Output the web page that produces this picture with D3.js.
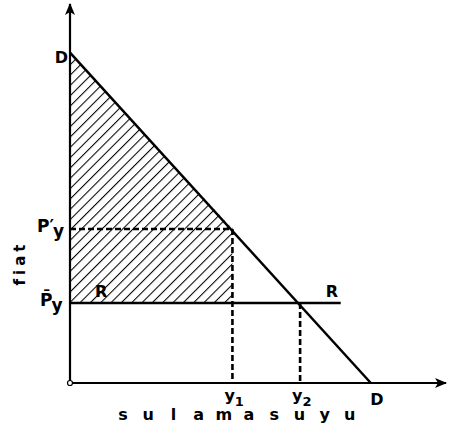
<!DOCTYPE html>
<html>
<head>
<meta charset="utf-8">
<script src="https://cdn.jsdelivr.net/npm/d3@7"></script>
<style>
  body { margin: 0; background: #fff; }
  text { font-family: "DejaVu Sans", "Liberation Sans", sans-serif; font-weight: bold; fill: #000; }
</style>
</head>
<body>
<svg width="453" height="442"></svg>
<script>
// Diagram values (data units)
const demandPoints = [{q: 0, p: 10}, {q: 10, p: 0}];   // D ... D
const priceLevels = {low: 2.42, high: 4.66};           // P̄y (R line), P'y
const quantities = [5.4, 7.65];                        // y1, y2
const quantityLabels = ['1', '2'];
const rLineEnd = 9.0;
const xLabelLetters = ['s', 'u', 'l', 'a', 'm', 'a', 's', 'u', 'y', 'u'];

// Scales
const x = d3.scaleLinear().domain([0, 12.5]).range([70, 446]);
const y = d3.scaleLinear().domain([0, 11.5]).range([383, 3]);
const line = d3.line().x(d => x(d.q)).y(d => y(d.p));

const svg = d3.select('svg');
const defs = svg.append('defs');

// hatching for the shaded area
defs.append('pattern')
  .attr('id', 'hatch')
  .attr('patternUnits', 'userSpaceOnUse')
  .attr('width', 7.3).attr('height', 7.3)
  .attr('patternTransform', 'rotate(45)')
  .append('line')
  .attr('x1', 0).attr('y1', 0).attr('x2', 0).attr('y2', 7.3)
  .attr('stroke', '#000').attr('stroke-width', 2.1);

defs.append('marker')
  .attr('id', 'arrow')
  .attr('viewBox', '0 0 12 10')
  .attr('refX', 11).attr('refY', 5)
  .attr('markerWidth', 12).attr('markerHeight', 10)
  .attr('markerUnits', 'userSpaceOnUse')
  .attr('orient', 'auto')
  .append('path')
  .attr('d', 'M0,0 L12,5 L0,10 L3,5 Z')
  .attr('fill', '#000');

const q1 = quantities[0], q2 = quantities[1];

// shaded area: under demand, above P̄y, left of y1
svg.append('path')
  .datum([{q: 0, p: 10}, {q: q1, p: priceLevels.high}, {q: q1, p: priceLevels.low}, {q: 0, p: priceLevels.low}])
  .attr('d', d => line(d) + 'Z')
  .attr('fill', 'url(#hatch)');

// axes
svg.append('line')
  .attr('x1', x(0)).attr('y1', y(0)).attr('x2', x(0)).attr('y2', y(11.5) + 1)
  .attr('stroke', '#000').attr('stroke-width', 2.2)
  .attr('marker-end', 'url(#arrow)');
svg.append('line')
  .attr('x1', x(0)).attr('y1', y(0)).attr('x2', x(12.5)).attr('y2', y(0))
  .attr('stroke', '#000').attr('stroke-width', 2.2)
  .attr('marker-end', 'url(#arrow)');
svg.append('circle')
  .attr('cx', x(0)).attr('cy', y(0)).attr('r', 2.5)
  .attr('fill', '#fff').attr('stroke', '#000').attr('stroke-width', 1.2);

// demand line
svg.append('path')
  .datum(demandPoints)
  .attr('d', line)
  .attr('fill', 'none').attr('stroke', '#000').attr('stroke-width', 2.5);

// R line
svg.append('line')
  .attr('x1', x(0)).attr('x2', x(rLineEnd))
  .attr('y1', y(priceLevels.low)).attr('y2', y(priceLevels.low))
  .attr('stroke', '#000').attr('stroke-width', 2.5);

// dashed guides
const dashed = (x1, y1, x2, y2) => svg.append('line')
  .attr('x1', x1).attr('y1', y1).attr('x2', x2).attr('y2', y2)
  .attr('stroke', '#000').attr('stroke-width', 2.6).attr('stroke-dasharray', '6,3');
dashed(x(0), y(priceLevels.high), x(q1), y(priceLevels.high));
dashed(x(q1), y(priceLevels.high), x(q1), y(0));
dashed(x(q2), y(priceLevels.low), x(q2), y(0));

// labels
svg.append('text').attr('x', x(0) - 2).attr('y', y(10) + 10)
  .attr('text-anchor', 'end').attr('font-size', 16).text('D');
svg.append('text').attr('x', x(10) + 6).attr('y', y(0) + 22)
  .attr('text-anchor', 'middle').attr('font-size', 16).text('D');

// P'y
const pHigh = svg.append('text').attr('x', 37).attr('y', y(priceLevels.high) + 3).attr('font-size', 17);
pHigh.append('tspan').text('P′');
pHigh.append('tspan').attr('dy', 5).attr('dx', -1).text('y');

// P̄y
const pLow = svg.append('text').attr('x', 40).attr('y', y(priceLevels.low) + 3).attr('font-size', 17);
pLow.append('tspan').text('P\u0304');
pLow.append('tspan').attr('dy', 5).attr('dx', -1).text('y');

svg.append('text').attr('x', 95).attr('y', y(priceLevels.low) - 6).attr('font-size', 16).text('R');
svg.append('text').attr('x', x(rLineEnd) - 15).attr('y', y(priceLevels.low) - 6).attr('font-size', 16).text('R');

// y1, y2
quantities.forEach((q, i) => {
  const t = svg.append('text').attr('x', x(q) - 8).attr('y', y(0) + 18).attr('font-size', 16);
  t.append('tspan').text('y');
  t.append('tspan').attr('font-size', 13).attr('dy', 5).text(quantityLabels[i]);
});

// axis titles
svg.append('text')
  .attr('transform', 'translate(25,263) rotate(-90)')
  .attr('text-anchor', 'middle').attr('font-size', 15)
  .attr('letter-spacing', 4).text('fiat');
svg.selectAll('.xl')
  .data(xLabelLetters).enter()
  .append('text')
  .attr('x', (d, i) => 123 + i * 25.2)
  .attr('y', 420)
  .attr('text-anchor', 'middle').attr('font-size', 16)
  .text(d => d);
</script>
</body>
</html>
